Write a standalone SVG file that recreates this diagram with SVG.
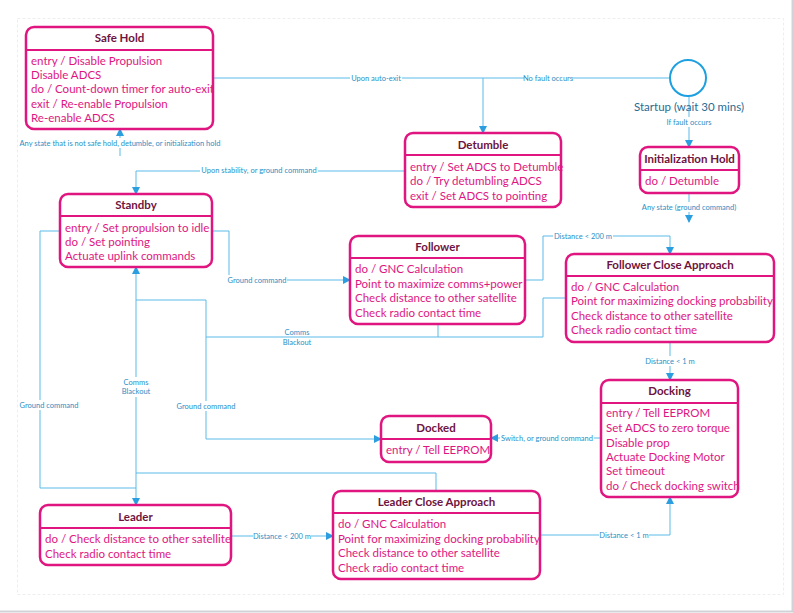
<svg xmlns="http://www.w3.org/2000/svg" width="793" height="613" viewBox="0 0 793 613">
<style>
.b{fill:#fff;stroke:#e0157f;stroke-width:2.5}
.d{stroke:#e0157f;stroke-width:2}
.t{font-family:Lato,"Open Sans",sans-serif;font-size:11.5px;font-weight:bold;fill:#6e1440;text-anchor:middle}
.x{font-family:Lato,"Open Sans",sans-serif;font-size:11.5px;fill:#e0157f}
.c{fill:none;stroke:#5bbbe8;stroke-width:1}
.l{font-family:Lato,"Open Sans",sans-serif;font-size:7.5px;fill:#2b8fc6;text-anchor:middle}
.lb{fill:#fff}
</style>
<defs><marker id="a" viewBox="0 0 8 8" refX="7" refY="4" markerWidth="8" markerHeight="8" orient="auto" markerUnits="userSpaceOnUse"><path d="M0,0L8,4L0,8z" fill="#2b9ee0"/></marker></defs>
<rect width="793" height="613" fill="#fff"/>
<rect x="17.5" y="18.5" width="766" height="576" fill="none" stroke="#eeeeee" stroke-dasharray="3,2"/>
<path d="M0,611.5H792.5V0" fill="none" stroke="#cfd3d8" stroke-width="2"/>
<g id="connectors">
<path class="c" d="M213,78H670"/>
<path class="c" d="M483,78V133" marker-end="url(#a)"/>
<path class="c" d="M689,96V147" marker-end="url(#a)"/>
<path class="c" d="M689,193V222" marker-end="url(#a)"/>
<path class="c" d="M120,156V129" marker-end="url(#a)"/>
<path class="c" d="M405,171H136V194" marker-end="url(#a)"/>
<path class="c" d="M212,231H229V280H350" marker-end="url(#a)"/>
<path class="c" d="M525,280H543V236H670V254" marker-end="url(#a)"/>
<path class="c" d="M566,298H543V337H206"/>
<path class="c" d="M438,324V337"/>
<path class="c" d="M136,300H206V439H381" marker-end="url(#a)"/>
<path class="c" d="M136,300V267" marker-end="url(#a)"/>
<path class="c" d="M136,300V505" marker-end="url(#a)"/>
<path class="c" d="M60,231H40V488H136"/>
<path class="c" d="M136,473H436V491"/>
<path class="c" d="M231,536H333" marker-end="url(#a)"/>
<path class="c" d="M540,535H670V497" marker-end="url(#a)"/>
<path class="c" d="M670,342V380" marker-end="url(#a)"/>
<path class="c" d="M601,438H491" marker-end="url(#a)"/>
<g>
<rect class="lb" x="350" y="73" width="52" height="10"/><text class="l" x="376" y="81">Upon auto-exit</text>
<rect class="lb" x="524" y="73" width="48" height="10"/><text class="l" x="548" y="81">No fault occurs</text>
<rect class="lb" x="665" y="117" width="48" height="10"/><text class="l" x="689" y="125">If fault occurs</text>
<rect class="lb" x="640" y="202" width="98" height="10"/><text class="l" x="689" y="210">Any state (ground command)</text>
<rect class="lb" x="18" y="138" width="204" height="10"/><text class="l" x="120" y="146">Any state that is not safe hold, detumble, or initialization hold</text>
<rect class="lb" x="200" y="165" width="118" height="10"/><text class="l" x="259" y="173">Upon stability, or ground command</text>
<rect class="lb" x="227" y="275" width="60" height="10"/><text class="l" x="257" y="283">Ground command</text>
<rect class="lb" x="553" y="231" width="60" height="10"/><text class="l" x="583" y="239">Distance &lt; 200 m</text>
<text class="l" x="297" y="335">Comms</text><text class="l" x="297" y="345">Blackout</text>
<rect class="lb" x="120" y="377" width="32" height="20"/><text class="l" x="136" y="385">Comms</text><text class="l" x="136" y="394">Blackout</text>
<rect class="lb" x="18" y="400" width="62" height="10"/><text class="l" x="49" y="408">Ground command</text>
<rect class="lb" x="176" y="401" width="60" height="10"/><text class="l" x="206" y="409">Ground command</text>
<rect class="lb" x="253" y="531" width="58" height="10"/><text class="l" x="282" y="539">Distance &lt; 200 m</text>
<rect class="lb" x="599" y="530" width="50" height="10"/><text class="l" x="624" y="538">Distance &lt; 1 m</text>
<rect class="lb" x="645" y="356" width="50" height="10"/><text class="l" x="670" y="364">Distance &lt; 1 m</text>
<rect class="lb" x="500" y="433" width="94" height="10"/><text class="l" x="547" y="441">Switch, or ground command</text>
</g>
</g>
<g id="startup"><circle cx="688" cy="78" r="18" fill="#fff" stroke="#1ea0e0" stroke-width="2"/><text x="689" y="111" font-family="Lato,'Open Sans',sans-serif" font-size="11.5" fill="#2a6a90" text-anchor="middle">Startup (wait 30 mins)</text></g>
<g id="safehold"><rect class="b" x="26" y="27" width="187" height="102" rx="8"/><path class="d" d="M26,50H213"/><text class="t" x="119.5" y="42">Safe Hold</text>
<text class="x" x="31" y="65">entry / Disable Propulsion</text><text class="x" x="31" y="79">Disable ADCS</text><text class="x" x="31" y="93">do / Count-down timer for auto-exit</text><text class="x" x="31" y="108">exit / Re-enable Propulsion</text><text class="x" x="31" y="122">Re-enable ADCS</text></g>
<g id="detumble"><rect class="b" x="405" y="133" width="156" height="74" rx="8"/><path class="d" d="M405,155H561"/><text class="t" x="483" y="149">Detumble</text>
<text class="x" x="410" y="171">entry / Set ADCS to Detumble</text><text class="x" x="410" y="185">do / Try detumbling ADCS</text><text class="x" x="410" y="200">exit / Set ADCS to pointing</text></g>
<g id="inithold"><rect class="b" x="640" y="147" width="99" height="46" rx="8"/><path class="d" d="M640,170H739"/><text class="t" x="689.5" y="163">Initialization Hold</text><text class="x" x="645" y="185">do / Detumble</text></g>
<g id="standby"><rect class="b" x="60" y="194" width="152" height="73" rx="8"/><path class="d" d="M60,216H212"/><text class="t" x="136" y="209">Standby</text>
<text class="x" x="65" y="232">entry / Set propulsion to idle</text><text class="x" x="65" y="246">do / Set pointing</text><text class="x" x="65" y="260">Actuate uplink commands</text></g>
<g id="follower"><rect class="b" x="350" y="236" width="175" height="88" rx="8"/><path class="d" d="M350,258H525"/><text class="t" x="437.5" y="251">Follower</text>
<text class="x" x="355" y="273">do / GNC Calculation</text><text class="x" x="355" y="288">Point to maximize comms+power</text><text class="x" x="355" y="302">Check distance to other satellite</text><text class="x" x="355" y="317">Check radio contact time</text></g>
<g id="fca"><rect class="b" x="566" y="254" width="208" height="88" rx="8"/><path class="d" d="M566,276H774"/><text class="t" x="670" y="269">Follower Close Approach</text>
<text class="x" x="571" y="291">do / GNC Calculation</text><text class="x" x="571" y="305">Point for maximizing docking probability</text><text class="x" x="571" y="320">Check distance to other satellite</text><text class="x" x="571" y="334">Check radio contact time</text></g>
<g id="docking"><rect class="b" x="601" y="380" width="137" height="117" rx="8"/><path class="d" d="M601,403H738"/><text class="t" x="669.5" y="395">Docking</text>
<text class="x" x="606" y="417">entry / Tell EEPROM</text><text class="x" x="606" y="432">Set ADCS to zero torque</text><text class="x" x="606" y="447">Disable prop</text><text class="x" x="606" y="461">Actuate Docking Motor</text><text class="x" x="606" y="475">Set timeout</text><text class="x" x="606" y="490">do / Check docking switch</text></g>
<g id="docked"><rect class="b" x="381" y="416" width="110" height="46" rx="8"/><path class="d" d="M381,439H491"/><text class="t" x="436" y="432">Docked</text><text class="x" x="386" y="454">entry / Tell EEPROM</text></g>
<g id="leader"><rect class="b" x="40" y="505" width="191" height="60" rx="8"/><path class="d" d="M40,528H231"/><text class="t" x="135.5" y="521">Leader</text>
<text class="x" x="45" y="543">do / Check distance to other satellite</text><text class="x" x="45" y="558">Check radio contact time</text></g>
<g id="lca"><rect class="b" x="333" y="491" width="207" height="88" rx="8"/><path class="d" d="M333,513H540"/><text class="t" x="436.5" y="506">Leader Close Approach</text>
<text class="x" x="338" y="528">do / GNC Calculation</text><text class="x" x="338" y="543">Point for maximizing docking probability</text><text class="x" x="338" y="557">Check distance to other satellite</text><text class="x" x="338" y="572">Check radio contact time</text></g>
</svg>
